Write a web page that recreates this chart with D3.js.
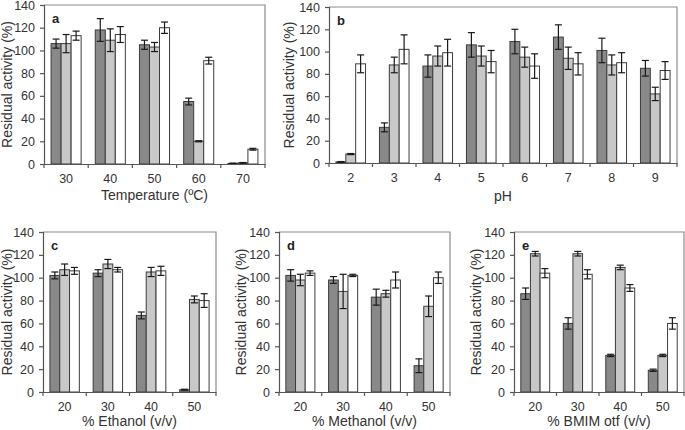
<!DOCTYPE html>
<html>
<head>
<meta charset="utf-8">
<script src="https://cdn.jsdelivr.net/npm/d3@7"></script>
<style>
  html, body { margin: 0; padding: 0; background: #fff; }
  svg { display: block; font-family: "Liberation Sans", Arial, sans-serif; }
</style>
</head>
<body>
<svg id="chart" width="685" height="430"></svg>
<script>
// ---------- DATA ----------
const yTickValues = [0, 20, 40, 60, 80, 100, 120, 140];
const seriesKeys = ["s1", "s2", "s3"];

// Panel a: Temperature
const tempCats = ["30", "40", "50", "60", "70"];
const tempS1 = [106, 118, 105, 55, 0.5];
const tempS1Err = [4, 10, 4, 3, 0.3];
const tempS2 = [106, 109, 103, 20, 1];
const tempS2Err = [8, 10, 4, 0.5, 0.3];
const tempS3 = [113, 114, 120, 91, 13];
const tempS3Err = [4, 7, 5, 3, 0.8];

// Panel b: pH
const phCats = ["2", "3", "4", "5", "6", "7", "8", "9"];
const phS1 = [1, 32, 87, 106, 109, 113, 101, 85];
const phS1Err = [0.3, 4, 10, 11, 11, 11, 11, 7];
const phS2 = [8, 88, 96, 96, 95, 94, 88, 62];
const phS2Err = [0.5, 7, 9, 9, 9, 10, 9, 6];
const phS3 = [89, 102, 99, 91, 87, 89, 90, 83];
const phS3Err = [8, 13, 12, 10, 11, 10, 9, 8];

// Panel c: Ethanol
const ethCats = ["20", "30", "40", "50"];
const ethS1 = [102, 104, 67, 2];
const ethS1Err = [3, 3, 3, 0.4];
const ethS2 = [107, 112, 105, 81];
const ethS2Err = [5, 4, 4, 3];
const ethS3 = [106, 107, 106, 80];
const ethS3Err = [3, 2, 4, 6];

// Panel d: Methanol
const metCats = ["20", "30", "40", "50"];
const metS1 = [102, 98, 83, 23];
const metS1Err = [5, 3, 7, 6];
const metS2 = [98, 88, 86, 75];
const metS2Err = [5, 15, 3, 9];
const metS3 = [104, 102, 98, 100];
const metS3Err = [2, 1, 7, 5];

// Panel e: BMIM otf
const bmiCats = ["20", "30", "40", "50"];
const bmiS1 = [86, 60, 32, 19];
const bmiS1Err = [5, 5, 1, 1];
const bmiS2 = [121, 121, 109, 32];
const bmiS2Err = [2, 2, 2, 1];
const bmiS3 = [104, 103, 91, 60];
const bmiS3Err = [4, 4, 3, 5];

const yTitle = "Residual activity (%)";

// ---------- STYLE ----------
const fills = { s1: "#898989", s2: "#c8c8c8", s3: "#ffffff" };
const barStroke = "#3c3c3c";
const axisColor = "#555";
const frameColor = "#8c8c8c";
const tickFont = "12.5px";
const titleFont = "14px";

const panels = [
  { letter: "a", cats: tempCats, vals: [tempS1, tempS2, tempS3], errs: [tempS1Err, tempS2Err, tempS3Err],
    xTitle: "Temperature (ºC)", x0: 44, x1: 265, yTop: 5, yBot: 164, yTitleX: 12, xTitleY: 200 },
  { letter: "b", cats: phCats, vals: [phS1, phS2, phS3], errs: [phS1Err, phS2Err, phS3Err],
    xTitle: "pH", x0: 329, x1: 677, yTop: 7, yBot: 163, yTitleX: 294, xTitleY: 201 },
  { letter: "c", cats: ethCats, vals: [ethS1, ethS2, ethS3], errs: [ethS1Err, ethS2Err, ethS3Err],
    xTitle: "% Ethanol (v/v)", x0: 43, x1: 216, yTop: 232, yBot: 392, yTitleX: 12, xTitleY: 426 },
  { letter: "d", cats: metCats, vals: [metS1, metS2, metS3], errs: [metS1Err, metS2Err, metS3Err],
    xTitle: "% Methanol (v/v)", x0: 279, x1: 450, yTop: 232, yBot: 392, yTitleX: 246, xTitleY: 426 },
  { letter: "e", cats: bmiCats, vals: [bmiS1, bmiS2, bmiS3], errs: [bmiS1Err, bmiS2Err, bmiS3Err],
    xTitle: "% BMIM otf (v/v)", x0: 514, x1: 684, yTop: 232, yBot: 392, yTitleX: 481, xTitleY: 426 }
];

const svg = d3.select("#chart");

panels.forEach(p => {
  const g = svg.append("g");
  const x = d3.scaleBand().domain(p.cats).range([p.x0, p.x1]).paddingInner(0.32).paddingOuter(0.16);
  const xs = d3.scaleBand().domain(seriesKeys).range([0, x.bandwidth()]).padding(0);
  const y = d3.scaleLinear().domain([0, 140]).range([p.yBot, p.yTop]);

  // frame (top & right)
  g.append("path")
    .attr("d", `M${p.x0},${p.yTop}H${p.x1}V${p.yBot}`)
    .attr("fill", "none").attr("stroke", frameColor).attr("stroke-width", 1.2);

  // bars
  const rows = [];
  p.cats.forEach((c, i) => {
    seriesKeys.forEach((k, j) => {
      rows.push({ cat: c, key: k, v: p.vals[j][i], e: p.errs[j][i] });
    });
  });
  g.selectAll("rect.bar").data(rows).join("rect")
    .attr("class", "bar")
    .attr("x", d => x(d.cat) + xs(d.key))
    .attr("y", d => y(d.v))
    .attr("width", xs.bandwidth())
    .attr("height", d => y(0) - y(d.v))
    .attr("fill", d => fills[d.key])
    .attr("stroke", barStroke)
    .attr("stroke-width", 1);

  // error bars
  const cap = 3.5;
  const cx = d => x(d.cat) + xs(d.key) + xs.bandwidth() / 2;
  const eb = g.selectAll("g.err").data(rows).join("g").attr("class", "err")
    .attr("stroke", "#1a1a1a").attr("stroke-width", 1.2);
  eb.append("line")
    .attr("x1", cx).attr("x2", cx)
    .attr("y1", d => y(d.v - d.e)).attr("y2", d => y(d.v + d.e));
  eb.append("line")
    .attr("x1", d => cx(d) - cap).attr("x2", d => cx(d) + cap)
    .attr("y1", d => y(d.v + d.e)).attr("y2", d => y(d.v + d.e));
  eb.append("line")
    .attr("x1", d => cx(d) - cap).attr("x2", d => cx(d) + cap)
    .attr("y1", d => y(d.v - d.e)).attr("y2", d => y(d.v - d.e));

  // y axis
  const ya = g.append("g").attr("transform", `translate(${p.x0},0)`)
    .call(d3.axisLeft(y).tickValues(yTickValues).tickSize(4).tickPadding(5));
  ya.select(".domain").attr("stroke", axisColor).attr("stroke-width", 1.2);
  ya.selectAll(".tick line").attr("stroke", axisColor).attr("stroke-width", 1.2);
  ya.selectAll(".tick text").attr("fill", "#333").style("font-size", tickFont)
    .style("font-family", "'Liberation Sans', Arial, sans-serif");

  // x axis (labels centred, ticks at category boundaries)
  const xa = g.append("g").attr("transform", `translate(0,${p.yBot})`)
    .call(d3.axisBottom(x).tickSize(0).tickPadding(10).tickSizeOuter(0));
  xa.select(".domain").attr("stroke", axisColor).attr("stroke-width", 1.2);
  xa.selectAll(".tick text").attr("fill", "#333").style("font-size", tickFont)
    .style("font-family", "'Liberation Sans', Arial, sans-serif");
  const bounds = p.cats.map(c => x(c) - x.step() * x.paddingInner() / 2).concat([p.x1]);
  g.selectAll("line.xb").data(bounds).join("line").attr("class", "xb")
    .attr("x1", d => d).attr("x2", d => d)
    .attr("y1", p.yBot).attr("y2", p.yBot + 4)
    .attr("stroke", axisColor).attr("stroke-width", 1.2);

  // titles
  g.append("text")
    .attr("transform", `translate(${p.yTitleX},${(p.yTop + p.yBot) / 2}) rotate(-90)`)
    .attr("text-anchor", "middle").attr("fill", "#333").style("font-size", titleFont)
    .text(yTitle);
  g.append("text")
    .attr("x", (p.x0 + p.x1) / 2).attr("y", p.xTitleY)
    .attr("text-anchor", "middle").attr("fill", "#333").style("font-size", titleFont)
    .text(p.xTitle);

  // panel letter
  g.append("text")
    .attr("x", p.x0 + 8).attr("y", p.yTop + 18)
    .attr("fill", "#222").style("font-size", "13px").style("font-weight", "bold")
    .text(p.letter);
});
</script>
</body>
</html>
